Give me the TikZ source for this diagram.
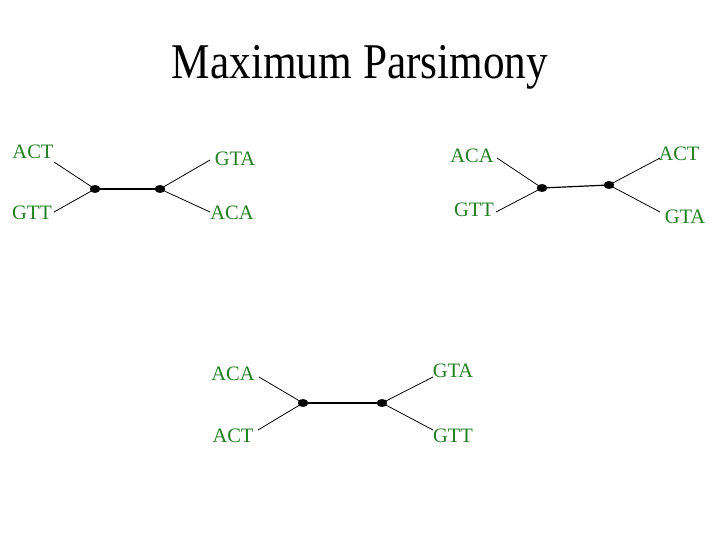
\documentclass[tikz,border=0pt]{standalone}
\usepackage{fontspec}
\setmainfont{Liberation Serif}
\usetikzlibrary{shapes.geometric}
\definecolor{labgreen}{RGB}{34,128,34}
\tikzset{
  seq/.style={anchor=base, inner sep=0pt, text=labgreen, font=\fontsize{20.5}{21}\selectfont},
  dot/.style={ellipse, fill=black, draw=black, minimum width=10pt, minimum height=7.5pt, inner sep=0pt},
  branch/.style={draw=black, line width=0.8pt},
  edge/.style={draw=black, line width=1.2pt}
}
\begin{document}
\begin{tikzpicture}[x=1pt,y=-1pt]
\useasboundingbox (0,0) rectangle (720,540);
\node[anchor=base, inner sep=0pt, xscale=0.865, transform shape, font=\fontsize{50}{50}\selectfont] (title) at (360,79) {Maximum Parsimony};

% Tree 1
\node[seq] (t1a) at (33,159) {ACT};
\node[seq] (t1b) at (32,220) {GTT};
\node[seq] (t1c) at (235,166) {GTA};
\node[seq] (t1d) at (232,220) {ACA};
\coordinate (t1ae) at (54,162);
\coordinate (t1be) at (54,212);
\coordinate (t1ce) at (210,160);
\coordinate (t1de) at (210,212);
\node[dot] (t1u) at (95,189) {};
\node[dot] (t1v) at (160,189) {};
\draw[branch] (t1ae) -- (t1u.center);
\draw[branch] (t1be) -- (t1u.center);
\draw[branch] (t1ce) -- (t1v.center);
\draw[branch] (t1de) -- (t1v.center);
\draw[edge] (t1u) -- (t1v);

% Tree 2
\node[seq] (t2a) at (472,163) {ACA};
\node[seq] (t2b) at (474,217) {GTT};
\node[seq] (t2c) at (679,161) {ACT};
\node[seq] (t2d) at (685,223) {GTA};
\coordinate (t2ae) at (497,158);
\coordinate (t2be) at (496,212);
\coordinate (t2ce) at (660,158);
\coordinate (t2de) at (660,212);
\node[dot] (t2u) at (542,188) {};
\node[dot] (t2v) at (609,185) {};
\draw[branch] (t2ae) -- (t2u.center);
\draw[branch] (t2be) -- (t2u.center);
\draw[branch] (t2ce) -- (t2v.center);
\draw[branch] (t2de) -- (t2v.center);
\draw[edge] (t2u) -- (t2v);

% Tree 3
\node[seq] (t3a) at (233,380) {ACA};
\node[seq] (t3b) at (233,442) {ACT};
\node[seq] (t3c) at (453,377) {GTA};
\node[seq] (t3d) at (453,442) {GTT};
\coordinate (t3ae) at (259,377);
\coordinate (t3be) at (258,430);
\coordinate (t3ce) at (433,377);
\coordinate (t3de) at (433,430);
\node[dot] (t3u) at (303,403) {};
\node[dot] (t3v) at (382,403) {};
\draw[branch] (t3ae) -- (t3u.center);
\draw[branch] (t3be) -- (t3u.center);
\draw[branch] (t3ce) -- (t3v.center);
\draw[branch] (t3de) -- (t3v.center);
\draw[edge] (t3u) -- (t3v);
\end{tikzpicture}
\end{document}
